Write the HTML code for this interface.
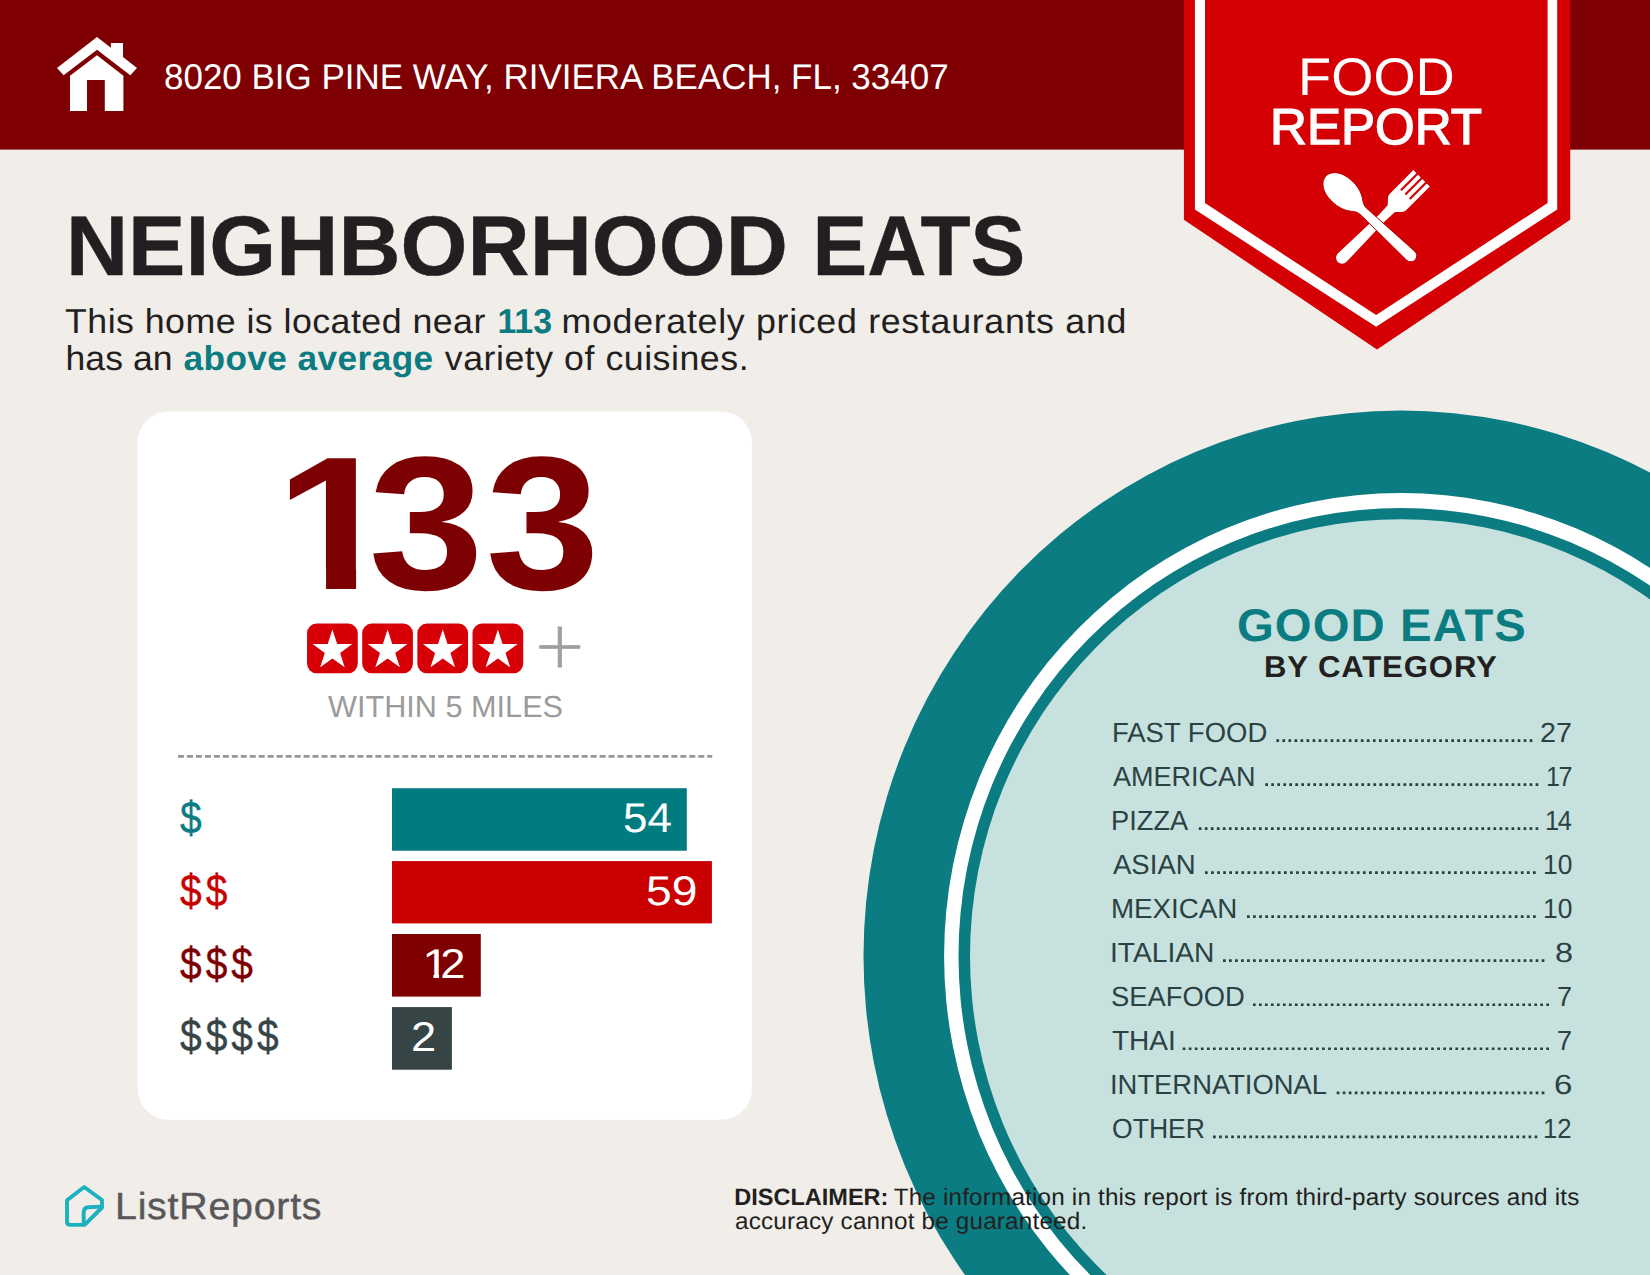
<!DOCTYPE html>
<html lang="en">
<head>
<meta charset="utf-8">
<title>Food Report - Neighborhood Eats</title>
<style>
html,body{margin:0;padding:0}
body{width:1650px;height:1275px;position:relative;overflow:hidden;background:#f1ede9;font-family:"Liberation Sans",Arial,sans-serif;color:#231f20;text-rendering:geometricPrecision}
.t{position:absolute;white-space:nowrap;line-height:1;transform-origin:0 0;margin:0;padding:0}
.ln{position:absolute;left:0;font-size:0;white-space:nowrap;line-height:1}
.sg{display:inline-block;width:0;white-space:nowrap;line-height:1;transform-origin:0 0;vertical-align:top}
.b{font-weight:bold}
.w{color:#fff}
#plate,#banner,#house,#logo,#cutlery{position:absolute;left:0;top:0}
.li{color:#2b4143}
.big{font-size:190px;color:#7d0002}
.dol{-webkit-text-stroke:0.4px currentColor;font-size:45px;transform:scaleX(0.865);letter-spacing:4.6px}
.tl{color:#0a7c82}
</style>
</head>
<body>

<!-- plate -->
<svg id="plate" width="1650" height="1275" viewBox="0 0 1650 1275">
  <rect x="0" y="0" width="1650" height="149.6" fill="#7e0002"/>
  <ellipse cx="1401" cy="956" rx="537.5" ry="545.5" fill="#0a7c82"/>
  <ellipse cx="1401" cy="956" rx="456.9" ry="462.9" fill="#ffffff"/>
  <ellipse cx="1401" cy="956" rx="442.5" ry="447.9" fill="#0a7c82"/>
  <ellipse cx="1401" cy="956" rx="431" ry="436.8" fill="#c7e1de"/>
  <g stroke="#27403f" stroke-width="2.7" stroke-dasharray="2.7 3.32" fill="none">
  <line x1="1276.4" y1="740.55" x2="1532.4" y2="740.55" stroke-dasharray="2.7 3.331"/>
  <line x1="1265.3" y1="784.58" x2="1538.3" y2="784.58" stroke-dasharray="2.7 3.307"/>
  <line x1="1198.8" y1="828.61" x2="1538.3" y2="828.61" stroke-dasharray="2.7 3.314"/>
  <line x1="1205.0" y1="872.64" x2="1535.7" y2="872.64" stroke-dasharray="2.7 3.374"/>
  <line x1="1247.0" y1="916.67" x2="1535.7" y2="916.67" stroke-dasharray="2.7 3.385"/>
  <line x1="1223.0" y1="960.70" x2="1544.4" y2="960.70" stroke-dasharray="2.7 3.313"/>
  <line x1="1253.0" y1="1004.73" x2="1549.0" y2="1004.73" stroke-dasharray="2.7 3.286"/>
  <line x1="1182.7" y1="1048.76" x2="1549.0" y2="1048.76" stroke-dasharray="2.7 3.360"/>
  <line x1="1336.7" y1="1092.79" x2="1544.4" y2="1092.79" stroke-dasharray="2.7 3.329"/>
  <line x1="1213.0" y1="1136.82" x2="1537.3" y2="1136.82" stroke-dasharray="2.7 3.368"/>
  </g>
  <rect x="137.6" y="411.5" width="614.4" height="708.3" rx="31" ry="31" fill="#ffffff"/>
  <rect x="307.05" y="623.6" width="50.7" height="49.6" rx="9.5" ry="9.5" fill="#d80007"/>
  <polygon points="332.4,629.5 337.2,643.9 352.3,643.9 340.1,652.9 344.7,667.3 332.4,658.4 320.2,667.3 324.8,652.9 312.6,643.9 327.7,643.9" fill="#ffffff"/>
  <rect x="362.2" y="623.6" width="50.7" height="49.6" rx="9.5" ry="9.5" fill="#d80007"/>
  <polygon points="387.6,629.5 392.3,643.9 407.5,643.9 395.2,652.9 399.9,667.3 387.6,658.4 375.3,667.3 380.0,652.9 367.7,643.9 382.9,643.9" fill="#ffffff"/>
  <rect x="417.35" y="623.6" width="50.7" height="49.6" rx="9.5" ry="9.5" fill="#d80007"/>
  <polygon points="442.8,629.5 447.5,643.9 462.6,643.9 450.4,652.9 455.0,667.3 442.8,658.4 430.5,667.3 435.1,652.9 422.9,643.9 438.0,643.9" fill="#ffffff"/>
  <rect x="472.5" y="623.6" width="50.7" height="49.6" rx="9.5" ry="9.5" fill="#d80007"/>
  <polygon points="497.9,629.5 502.6,643.9 517.8,643.9 505.5,652.9 510.2,667.3 497.9,658.4 485.6,667.3 490.3,652.9 478.0,643.9 493.2,643.9" fill="#ffffff"/>
  <line x1="178" y1="756.35" x2="712.2" y2="756.35" stroke="#969696" stroke-width="2.9" stroke-dasharray="6 2.97"/>
  <rect x="392" y="788.2" width="294.8" height="62.5" fill="#007b80"/>
  <rect x="392" y="861.1" width="319.9" height="62.3" fill="#ca0000"/>
  <rect x="392" y="934" width="88.8" height="62.6" fill="#7f0001"/>
  <rect x="392" y="1007.1" width="59.9" height="62.6" fill="#364446"/>
</svg>

<!-- banner -->
<svg id="banner" width="1650" height="360" viewBox="0 0 1650 360">
  <polygon points="1183.9,0 1570.2,0 1570.2,219.8 1377,349.4 1183.9,219.8" fill="#d40003"/>
  <polygon points="1194.9,0 1557.2,0 1557.2,209.6 1376.1,326.7 1194.9,209.6" fill="#ffffff"/>
  <polygon points="1205,0 1547.6,0 1547.6,203 1376.1,315.1 1205,203" fill="#d40003"/>
</svg>

<!-- spoon and fork -->
<svg id="cutlery" width="1650" height="360" viewBox="0 0 1650 360">
  <g fill="#ffffff">
    <g transform="translate(1421.6,178.3) rotate(135)">
      <path d="M0,-11.6 L25,-11.6 L34,-11.6 C37,-11.6 39,-8 43,-5 L56,-4.3 L112.5,-6 A6,6 0 0 1 112.5,6 L56,4.3 L43,5 C39,8 37,11.6 34,11.6 L0,11.6 L0,7.3 L23,7.3 L23,5.1 L0,5.1 L0,1.1 L23,1.1 L23,-1.1 L0,-1.1 L0,-5.1 L23,-5.1 L23,-7.3 L0,-7.3 Z"/>
    </g>
    <g transform="translate(1326.2,176.4) rotate(43.2)" stroke="#b80000" stroke-width="0.9">
      <path d="M-0.5,0 C-0.5,-6.5 6,-12.6 16,-14 C27,-15.4 36,-13 42,-8.4 C45,-6 47,-4.7 51,-4.4 L116,-6 A6,6 0 0 1 116,6 L51,4.4 C47,4.7 45,6 42,8.4 C36,13 27,15.4 16,14 C6,12.6 -0.5,6.5 -0.5,0 Z"/>
    </g>
  </g>
</svg>

<!-- house icon -->
<svg id="house" width="200" height="149" viewBox="0 0 200 149">
  <g fill="#ffffff">
    <polygon points="97,37 57,67.9 63.6,75.2 97,49.7 130.3,75.2 137,67.9 123,57.1 123,43 110.9,43 110.9,47.7"/>
    <path d="M97 55.2 L70 75.8 L70 110.9 L87 110.9 L87 80 L104.8 80 L104.8 110.9 L123.4 110.9 L123.4 75.8 Z"/>
  </g>
</svg>

<div class="t w" id="addr" style="left:163.6px;top:60px;font-size:35.76px;transform:scaleX(0.9782);">8020 BIG PINE WAY, RIVIERA BEACH, FL, 33407</div>

<div class="t w" id="food" style="left:1297.8px;top:52px;font-size:52.91px;transform:scaleX(1.026);">FOOD</div>
<div class="t w" id="report" style="left:1270.1px;top:102px;font-size:50.6px;transform:scaleX(1.0097);-webkit-text-stroke:1.35px #fff;">REPORT</div>

<div class="ln" id="title" style="top:204px"><span class="sg b" style="font-size:84.7px;transform:translate(65.9px,0) scaleX(1.0161);-webkit-text-stroke:0.4px #231f20;">NEIGHBORHOOD</span> <span class="sg b" style="font-size:84.7px;transform:translate(812.6px,0) scaleX(0.9687);-webkit-text-stroke:0.4px #231f20;">EATS</span></div>
<div class="ln" id="sub1" style="top:305px"><span class="sg" style="font-size:34.59px;letter-spacing:0.442px;transform:translate(65.0px,0) scaleX(1.034);">This home is located near</span> <span class="sg b tl" style="font-size:34.59px;transform:translate(497.4px,0) scaleX(0.9788);">113</span> <span class="sg" style="font-size:34.59px;letter-spacing:0.673px;transform:translate(561.5px,0) scaleX(1.0341);">moderately priced restaurants and</span></div>
<div class="ln" id="sub2" style="top:342px"><span class="sg" style="font-size:34.59px;letter-spacing:0.065px;transform:translate(65.5px,0) scaleX(1.028);">has an</span> <span class="sg b tl" style="font-size:34.59px;letter-spacing:0.395px;transform:translate(183.5px,0) scaleX(1.0189);">above average</span> <span class="sg" style="font-size:34.59px;letter-spacing:0.502px;transform:translate(444.8px,0) scaleX(1.0333);">variety of cuisines.</span></div>

<div class="ln" id="big" style="top:429.2px"><span class="sg b big" style="transform:translate(275px,0) scaleX(1.148);clip-path:polygon(0 0,70.7px 0,70.7px 190px,44.5px 190px,44.5px 139px,0 139px)">1</span><span class="sg b big" style="transform:translate(368.6px,0) scaleX(1.09)">3</span><span class="sg b big" style="transform:translate(485.6px,0) scaleX(1.08)">3</span></div>

<div class="t" id="plusg" style="left:532.9px;top:614px;font-family:'DejaVu Sans',sans-serif;font-weight:200;font-size:64px;color:#9e9f9e;-webkit-text-stroke:0.9px #9e9f9e">+</div>
<div class="t" id="within" style="left:327.6px;top:692px;font-size:30.38px;transform:scaleX(1.0091);color:#9b9b9b;">WITHIN 5 MILES</div>

<div class="t dol" id="d1" style="left:179.8px;top:794.7px;color:#0a7c82">$</div>
<div class="t dol" id="d2" style="left:179.8px;top:868.2px;color:#c80000">$$</div>
<div class="t dol" id="d3" style="left:179.8px;top:940.7px;color:#7d0002">$$$</div>
<div class="t dol" id="d4" style="left:179.8px;top:1013.2px;color:#364446">$$$$</div>

<div class="t w" id="n54" style="left:623.3px;top:797px;font-size:41.57px;transform:scaleX(1.0581);">54</div>
<div class="t w" id="n59" style="left:646.2px;top:870px;font-size:41.57px;transform:scaleX(1.1119);">59</div>
<div class="ln w" id="n12" style="top:943px"><span class="sg" style="font-size:41.57px;transform:translate(422.3px,0) scaleX(1.16);clip-path:polygon(0 0,14.5px 0,14.5px 42px,9.6px 42px,9.6px 30.5px,0 30.5px)">1</span><span class="sg" style="font-size:41.57px;transform:translate(440.3px,0) scaleX(1.0895)">2</span></div>
<div class="t w" id="n2" style="left:411.2px;top:1016px;font-size:41.57px;transform:scaleX(1.0895);">2</div>

<div class="t b tl" id="ge" style="left:1236.9px;top:603px;font-size:45.78px;letter-spacing:1.057px;transform:scaleX(1.033);">GOOD EATS</div>
<div class="t b" id="bc" style="left:1264.4px;top:653px;font-size:30.09px;letter-spacing:0.813px;transform:scaleX(1.0356);">BY CATEGORY</div>

<div class="t li" style="left:1111.9px;top:719px;font-size:27.76px;transform:scaleX(0.9902);">FAST FOOD</div>
<div class="t li" style="left:1539.9px;top:719px;font-size:27.76px;transform:scaleX(1.0379);">27</div>
<div class="t li" style="left:1112.6px;top:763px;font-size:27.76px;transform:scaleX(0.9736);">AMERICAN</div>
<div class="t li" style="left:1545.7px;top:763px;font-size:27.76px;transform:scaleX(0.9038);"><span style="letter-spacing:-1.5px">1</span>7</div>
<div class="t li" style="left:1111.4px;top:807px;font-size:27.76px;transform:scaleX(0.9816);">PIZZA</div>
<div class="t li" style="left:1544.5px;top:807px;font-size:27.76px;transform:scaleX(0.9148);"><span style="letter-spacing:-1.5px">1</span>4</div>
<div class="t li" style="left:1112.6px;top:851px;font-size:27.76px;transform:scaleX(0.9926);">ASIAN</div>
<div class="t li" style="left:1542.5px;top:851px;font-size:27.76px;transform:scaleX(0.95);">10</div>
<div class="t li" style="left:1111.4px;top:895px;font-size:27.76px;transform:scaleX(0.9992);">MEXICAN</div>
<div class="t li" style="left:1542.5px;top:895px;font-size:27.76px;transform:scaleX(0.95);">10</div>
<div class="t li" style="left:1110.4px;top:939px;font-size:27.76px;transform:scaleX(1.0163);">ITALIAN</div>
<div class="t li" style="left:1554.6px;top:939px;font-size:27.76px;transform:scaleX(1.1692);">8</div>
<div class="t li" style="left:1111.4px;top:983px;font-size:27.76px;transform:scaleX(0.9864);">SEAFOOD</div>
<div class="t li" style="left:1557.3px;top:983px;font-size:27.76px;transform:scaleX(0.9769);">7</div>
<div class="t li" style="left:1112.4px;top:1027px;font-size:27.76px;transform:scaleX(1.01);">THAI</div>
<div class="t li" style="left:1557.3px;top:1027px;font-size:27.76px;transform:scaleX(0.9769);">7</div>
<div class="t li" style="left:1110.4px;top:1071px;font-size:27.76px;transform:scaleX(0.9866);">INTERNATIONAL</div>
<div class="t li" style="left:1554.3px;top:1071px;font-size:27.76px;transform:scaleX(1.1923);">6</div>
<div class="t li" style="left:1112.4px;top:1115px;font-size:27.76px;transform:scaleX(0.9574);">OTHER</div>
<div class="t li" style="left:1543.1px;top:1115px;font-size:27.76px;transform:scaleX(0.9286);">12</div>

<!-- ListReports logo mark -->
<svg id="logo" width="140" height="1275" viewBox="0 0 140 1275">
  <g fill="none" stroke="#1cb1c0" stroke-width="3.9" stroke-linejoin="round" stroke-linecap="round">
    <path d="M84.2,1187 L67,1200.2 L67,1221.5 Q67,1224.9 70.4,1224.9 L84.6,1224.9 L102,1207.5 L102,1200 Z"/>
    <path d="M101,1206.6 L88.5,1207.3 Q83.7,1207.6 83.7,1212.4 L83.7,1223.5"/>
  </g>
</svg>
<div class="t" id="lr" style="left:114.9px;top:1189px;font-size:37.79px;letter-spacing:0.723px;transform:scaleX(1.0412);color:#58585a;-webkit-text-stroke:0.4px #58585a;">ListReports</div>

<div class="ln" id="dis1" style="top:1187px"><span class="sg b" style="font-size:23.69px;transform:translate(734.2px,0) scaleX(0.9934);">DISCLAIMER:</span> <span class="sg" style="font-size:23.69px;letter-spacing:0.174px;transform:translate(893.7px,0) scaleX(1.024);">The information in this report is from third-party sources and its</span></div>
<div class="t" id="dis2" style="left:735.2px;top:1211px;font-size:23.69px;letter-spacing:0.176px;transform:scaleX(1.0253);">accuracy cannot be guaranteed.</div>

</body>
</html>
